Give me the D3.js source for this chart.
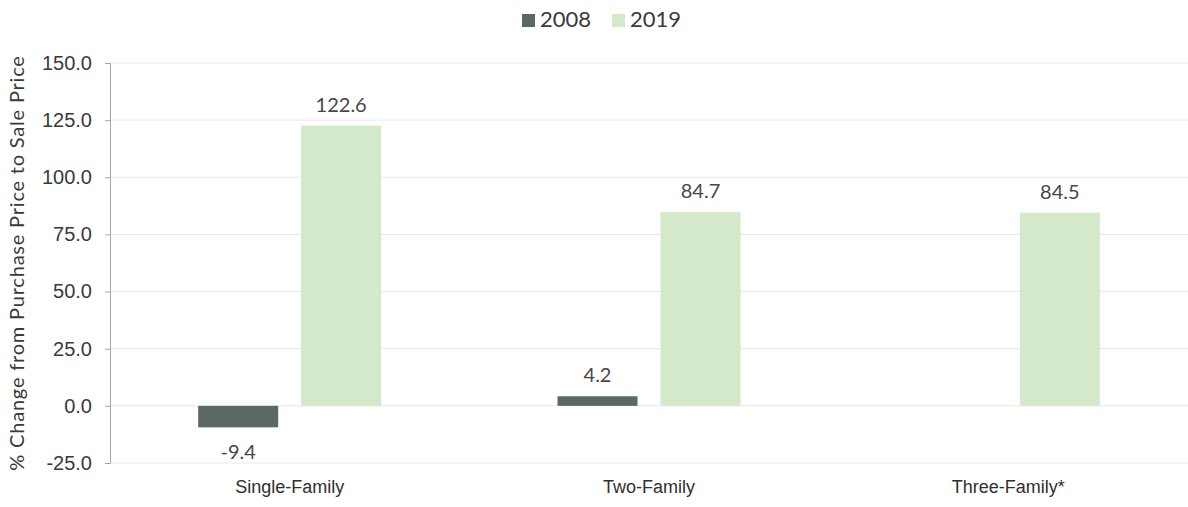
<!DOCTYPE html>
<html>
<head>
<meta charset="utf-8">
<script src="https://cdn.jsdelivr.net/npm/d3@7/dist/d3.min.js"></script>
<style>
  html, body { margin: 0; padding: 0; background: #fff; }
  svg { display: block; font-family: Lato, "Open Sans", sans-serif; }
</style>
</head>
<body>
<svg id="chart" width="1188" height="507"></svg>
<script>
// Housing types and price change by year of sale
const categories = ["Single-Family", "Two-Family", "Three-Family*"];
const seriesNames = ["2008", "2019"];
const values2008 = [-9.4, 4.2, null];
const values2019 = [122.6, 84.7, 84.5];
const yTicks = [-25, 0, 25, 50, 75, 100, 125, 150];
const seriesColors = ["#5b6864", "#d3e9ca"];

const seriesValues = [values2008, values2019];
const rows = categories.map((c, i) => ({
  category: c,
  bars: seriesNames.map((s, j) => ({ series: s, value: seriesValues[j][i], color: seriesColors[j] }))
}));

// plain hyphen for negative numbers
const fmt = d3.formatLocale({ decimal: ".", thousands: ",", grouping: [3], currency: ["$", ""], minus: "-" }).format(".1f");

const svg = d3.select("#chart");
const plotLeft = 110, plotRight = 1188, plotTop = 63, plotBottom = 463;

const y = d3.scaleLinear().domain([-25, 150]).range([plotBottom, plotTop]);
const x0 = d3.scaleBand().domain(categories).range([plotLeft, plotRight]).padding(0);
const groupW = 183;
const x1 = d3.scaleBand().domain(seriesNames)
  .range([x0.bandwidth() / 2 - groupW / 2, x0.bandwidth() / 2 + groupW / 2])
  .paddingInner(0.223).paddingOuter(0);

// horizontal gridlines
svg.append("g")
  .selectAll("line")
  .data(yTicks)
  .join("line")
  .attr("x1", plotLeft).attr("x2", plotRight)
  .attr("y1", d => y(d)).attr("y2", d => y(d))
  .attr("stroke", "#e8e8e8").attr("stroke-width", 1);

// y axis
const yAxis = svg.append("g")
  .attr("transform", `translate(${plotLeft},0)`)
  .call(d3.axisLeft(y).tickValues(yTicks).tickFormat(fmt).tickSize(5).tickPadding(13));
yAxis.select(".domain").attr("stroke", "#a8a3b5");
yAxis.selectAll(".tick line").attr("stroke", "#a8a3b5");
yAxis.selectAll("text").attr("fill", "#3a3a3a").style("font-size", "20px");

// y axis title
svg.append("text")
  .attr("transform", `translate(24,263) rotate(-90)`)
  .attr("text-anchor", "middle")
  .attr("fill", "#3a3a3a")
  .style("font-size", "20px")
  .style("letter-spacing", "0.8px")
  .text("% Change from Purchase Price to Sale Price");

// x axis labels
const xAxis = svg.append("g")
  .attr("transform", `translate(0,${plotBottom})`)
  .call(d3.axisBottom(x0).tickSize(0).tickPadding(17));
xAxis.select(".domain").remove();
xAxis.selectAll("text").attr("fill", "#2f2f2f").style("font-size", "18px");

// bars
const groups = svg.append("g")
  .selectAll("g")
  .data(rows)
  .join("g")
  .attr("transform", d => `translate(${x0(d.category)},0)`);

const bars = groups.selectAll("g.bar")
  .data(d => d.bars.filter(b => b.value !== null))
  .join("g").attr("class", "bar");

bars.append("rect")
  .attr("x", d => x1(d.series))
  .attr("width", x1.bandwidth())
  .attr("y", d => y(Math.max(0, d.value)))
  .attr("height", d => Math.abs(y(d.value) - y(0)))
  .attr("fill", d => d.color);

bars.append("text")
  .attr("x", d => x1(d.series) + x1.bandwidth() / 2)
  .attr("y", d => d.value >= 0 ? y(d.value) - 14 : y(d.value) + 32)
  .attr("text-anchor", "middle")
  .attr("fill", "#474747")
  .style("font-size", "20px")
  .text(d => fmt(d.value));

// legend
const legend = svg.append("g").attr("transform", "translate(522,11)");
const items = legend.selectAll("g")
  .data(seriesNames)
  .join("g")
  .attr("transform", (d, i) => `translate(${i * 90},0)`);
items.append("rect")
  .attr("width", 13).attr("height", 13).attr("y", 3)
  .attr("fill", (d, i) => seriesColors[i]);
items.append("text")
  .attr("x", 18).attr("y", 16)
  .attr("fill", "#3a3a3a")
  .style("font-size", "22px")
  .text(d => d);
</script>
</body>
</html>
